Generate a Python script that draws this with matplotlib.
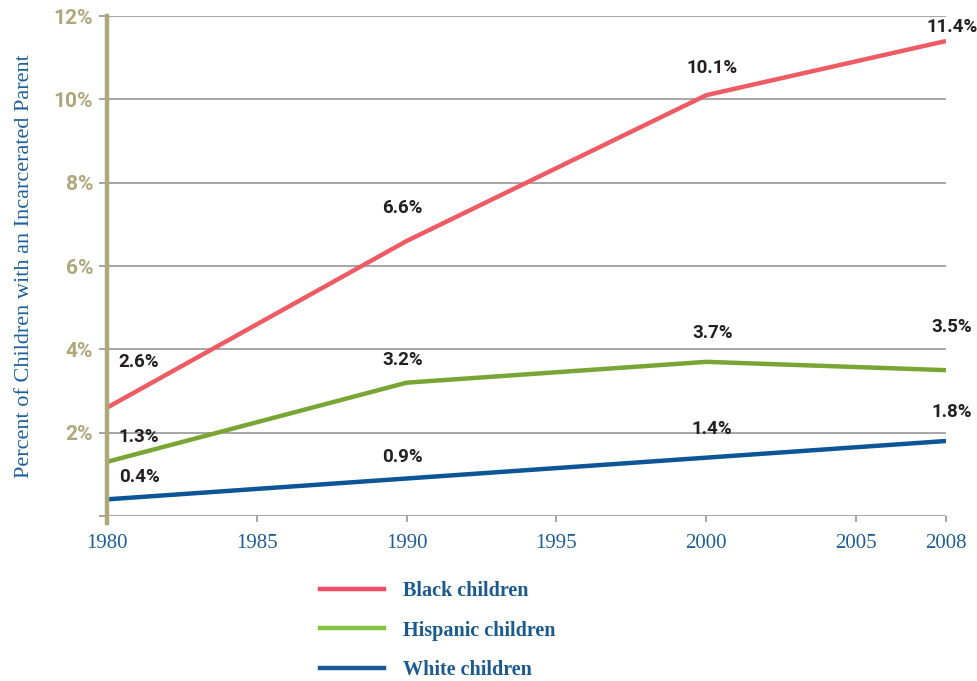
import matplotlib
matplotlib.use("Agg")
import matplotlib.pyplot as plt
from matplotlib.lines import Line2D

years = [1980, 1990, 2000, 2008]
black = [2.6, 6.6, 10.1, 11.4]
hispanic = [1.3, 3.2, 3.7, 3.5]
white = [0.4, 0.9, 1.4, 1.8]
series_names = ["Black children", "Hispanic children", "White children"]
colors = ["#ef5b64", "#79a534", "#0c5597"]
legend_colors = ["#ef4d6a", "#84c341", "#1b5a99"]
x_ticks = [1980, 1985, 1990, 1995, 2000, 2005, 2008]
y_ticks = [0, 2, 4, 6, 8, 10, 12]
y_tick_labels = ["", "2%", "4%", "6%", "8%", "10%", "12%"]

# label offsets from data points, in pixels (dx, dy-up)
label_offsets = {
    "black": [(32, 46), (-4, 33), (6, 27), (6, 14)],
    "hispanic": [(32, 25), (-4, 23), (6, 29), (6, 43)],
    "white": [(32, 22), (-4, 21), (6, 29), (6, 29)],
}

cond = ["Roboto", "DejaVu Sans"]
serif = ["Liberation Serif", "DejaVu Serif"]
khaki = "#ada77a"
blue_text = "#1c5e9b"

fig = plt.figure(figsize=(9.78, 6.81), dpi=100)
ax = fig.add_axes([107/978, 1-516/681, 839/978, 500/681])
ax.set_xlim(1980, 2008)
ax.set_ylim(0, 12)

for v in y_ticks:
    ax.axhline(v, color="#a6a6a6", lw=1.4, zorder=1)

for vals, c in zip([black, hispanic, white], colors):
    ax.plot(years, vals, color=c, lw=3.2, solid_capstyle="butt", zorder=3)

for key, vals in zip(["black", "hispanic", "white"], [black, hispanic, white]):
    for (x, v), (dx, dy) in zip(zip(years, vals), label_offsets[key]):
        ax.annotate(f"{v:.1f}%", (x, v), xytext=(dx, dy), textcoords="offset pixels",
                    ha="center", va="center", fontsize=13.5, fontweight="bold",
                    family=cond, color="#231f20", zorder=4, annotation_clip=False)

for s in ["top", "right", "bottom"]:
    ax.spines[s].set_visible(False)
ax.spines["left"].set_color(khaki)
ax.spines["left"].set_linewidth(3.2)
ax.spines["left"].set_bounds(-0.16, 12)
ax.spines["left"].set_zorder(5)

ax.set_yticks(y_ticks)
ax.set_yticklabels(y_tick_labels)
ax.set_xticks(x_ticks)
ax.set_xticklabels([str(t) for t in x_ticks])
ax.tick_params(axis="y", length=6, width=1.4, color="#a6a6a6", pad=4,
               labelsize=15, labelcolor=khaki)
ax.tick_params(axis="x", length=4, width=1.4, color="#a6a6a6", pad=9,
               labelsize=15, labelcolor=blue_text)
for lab in ax.get_yticklabels():
    lab.set_family(cond)
    lab.set_fontweight("bold")
for lab in ax.get_xticklabels():
    lab.set_family(serif)
ax.xaxis.get_major_ticks()[0].tick1line.set_visible(False)

ax.set_ylabel("Percent of Children with an Incarcerated Parent", family=serif,
              fontsize=16, color=blue_text, labelpad=14)

handles = [Line2D([], [], color=c, lw=3.2) for c in legend_colors]
leg = fig.legend(handles, series_names, loc="upper left",
                 bbox_to_anchor=(320/978, 1-581/681), frameon=False,
                 borderpad=0, borderaxespad=0, handlelength=3.18,
                 handletextpad=0.95, labelspacing=0.97,
                 prop={"family": serif, "size": 14.5, "weight": "bold"})
for t in leg.get_texts():
    t.set_color("#1a5a8f")

fig.savefig("out.png", dpi=100)
